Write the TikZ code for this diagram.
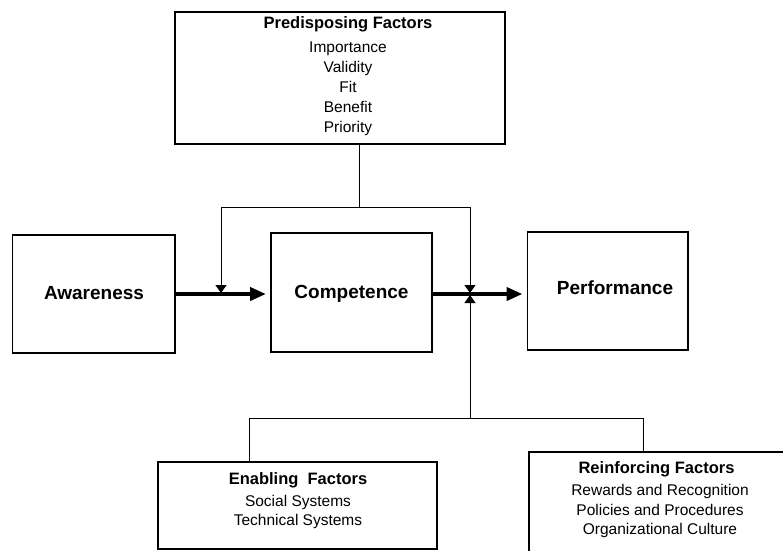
\documentclass[tikz,border=0pt]{standalone}
\usepackage{fontspec}
\setmainfont{Liberation Sans}
\usetikzlibrary{arrows.meta}
\begin{document}
\begin{tikzpicture}[x=1pt,y=-1pt,
  boxnode/.style={draw, line width=1.1pt, inner sep=0pt, outer sep=0pt},
  mainlabel/.style={font=\fontsize{19}{22}\selectfont\bfseries, inner sep=0pt},
  headlabel/.style={font=\fontsize{16.5}{20}\selectfont\bfseries, inner sep=0pt},
  itemlabel/.style={font=\fontsize{15.5}{#1}\selectfont, align=center, inner sep=0pt},
  thin/.style={line width=1pt},
  bigarrow/.style={line width=4pt, -{Triangle[length=16pt,width=13pt]}},
  smallarrow/.style={line width=1pt, -{Triangle[length=8pt,width=11pt]}}
]
\clip (0,0) rectangle (783,550);
\fill[white] (0,0) rectangle (783,550);

% boxes
\node[boxnode, minimum width=330pt, minimum height=132pt] (pf) at (340,78) {};
\node[boxnode, minimum width=162.5pt, minimum height=118pt] (aw) at (93.75,294) {};
\node[boxnode, minimum width=161pt, minimum height=119pt] (co) at (351.5,292.5) {};
\node[boxnode, minimum width=160.5pt, minimum height=118pt] (pe) at (607.75,291) {};
\node[boxnode, minimum width=279pt, minimum height=87pt] (en) at (297.5,505.5) {};
\node[boxnode, minimum width=261pt, minimum height=118pt] (re) at (659.5,511) {};

% labels
\node[headlabel] (pfh) at (348,24.5) {Predisposing Factors};
\node[itemlabel=20pt] (pfi) at (348,88.5) {Importance\\Validity\\Fit\\Benefit\\Priority};
\node[mainlabel] (awl) at (94,293) {Awareness};
\node[mainlabel] (col) at (351.5,293.5) {Competence};
\node[mainlabel] (pel) at (615,288) {Performance};
\node[headlabel] (enh) at (298,480) {Enabling\ \ Factors};
\node[itemlabel=19pt] (eni) at (298,512) {Social Systems\\Technical Systems};
\node[headlabel] (reh) at (656.5,469) {Reinforcing Factors};
\node[itemlabel=19.5pt] (rei) at (660,511) {Rewards and Recognition\\Policies and Procedures\\Organizational Culture};

% junction coordinates
\coordinate (pfb) at (359,144);
\coordinate (ft) at (359,207);
\coordinate (fl) at (221,207);
\coordinate (fr) at (470,207);
\coordinate (flt) at (221,293);
\coordinate (frt) at (470,293);
\coordinate (bm) at (470,418);
\coordinate (bmt) at (470,295);
\coordinate (bl) at (249,418);
\coordinate (br) at (643,418);
\coordinate (enl) at (249,462);
\coordinate (rel) at (643,452);

% main arrows
\draw[bigarrow, shorten >=5pt] (aw.east |- 0,294) -- (co.west |- 0,294);
\draw[bigarrow, shorten >=5pt] (co.east |- 0,294) -- (pe.west |- 0,294);

% feedback from predisposing
\draw[thin] (pfb) -- (ft);
\draw[thin] (fl) -- (fr);
\draw[smallarrow] (fl) -- (flt);
\draw[smallarrow] (fr) -- (frt);

% enabling / reinforcing
\draw[smallarrow] (bm) -- (bmt);
\draw[thin] (bl) -- (br);
\draw[thin] (bl) -- (enl);
\draw[thin] (br) -- (rel);
\end{tikzpicture}
\end{document}
